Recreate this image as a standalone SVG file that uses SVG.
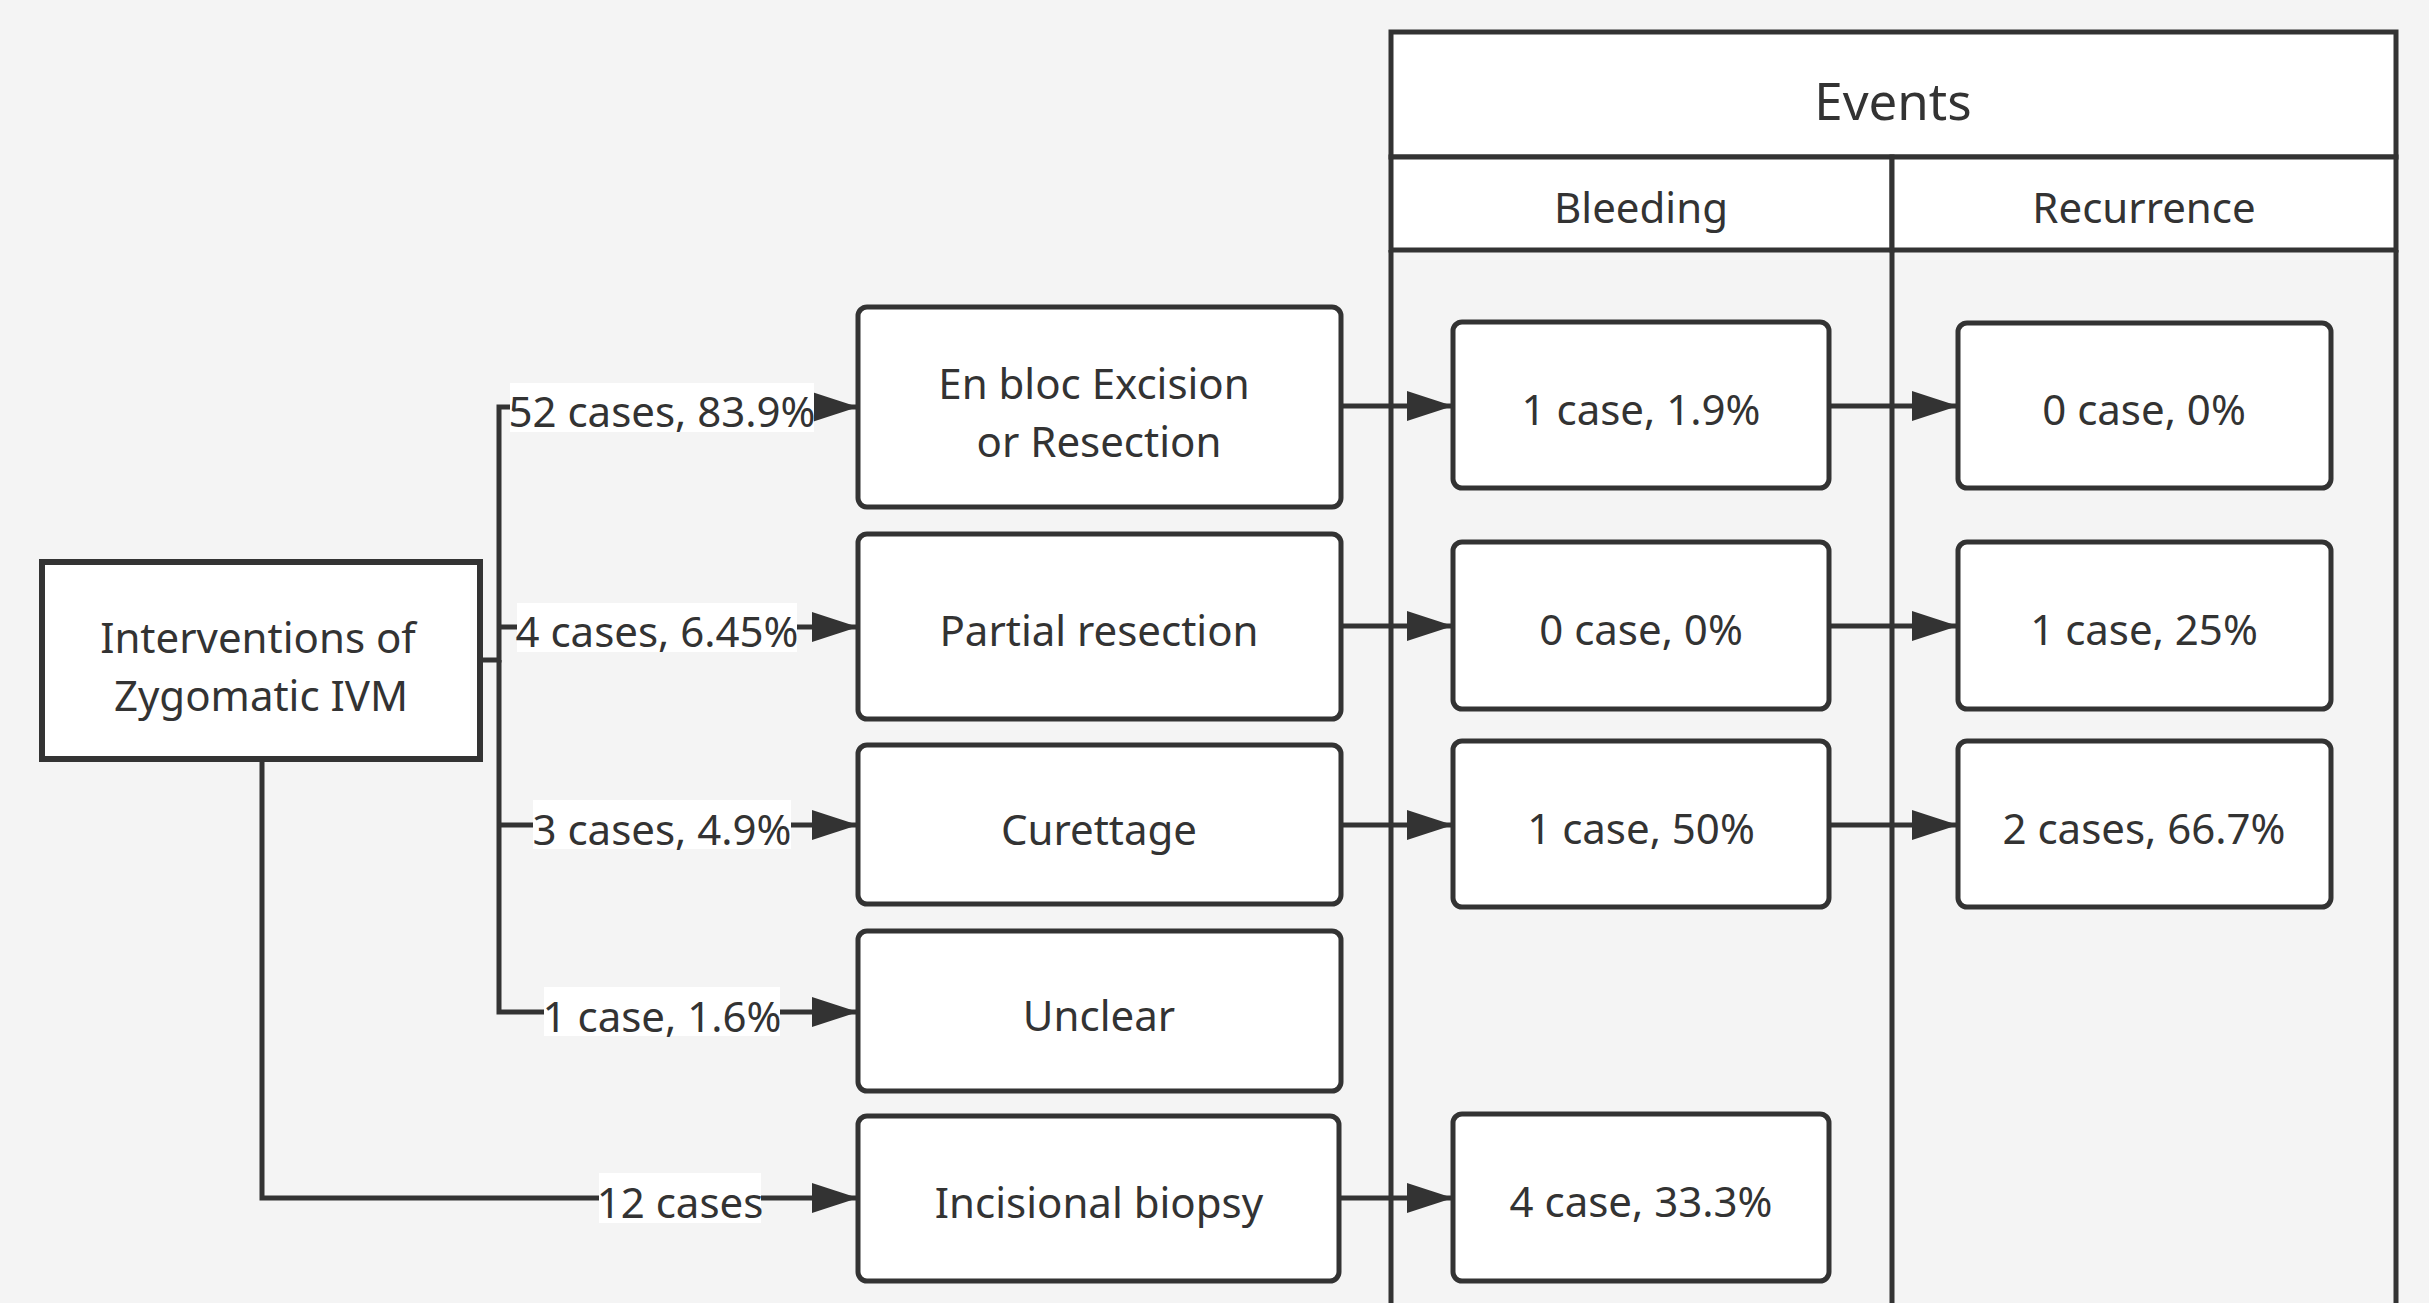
<svg xmlns="http://www.w3.org/2000/svg" width="2429" height="1303" viewBox="0 0 2429 1303">
  <style>
    text { font-family: "Noto Sans", "Open Sans", "Liberation Sans", sans-serif; font-size: 42px; fill: #333333; text-anchor: middle; }
    .box { fill: #ffffff; stroke: #333333; stroke-width: 5; }
    .root { fill: #ffffff; stroke: #333333; stroke-width: 6; }
    .conn { fill: none; stroke: #333333; stroke-width: 5; }
    .lbl { fill: #ffffff; }
    .lane { fill: none; stroke: #333333; stroke-width: 5; }
    .hdr { fill: #ffffff; stroke: #333333; stroke-width: 5; }
    .title { font-size: 51px; }
  </style>
  <defs>
    <marker id="arrow" markerUnits="userSpaceOnUse" markerWidth="46" markerHeight="30" refX="46" refY="15" orient="auto">
      <path d="M0,0 L46,15 L0,30 Z" fill="#333333"/>
    </marker>
  </defs>
  <rect x="0" y="0" width="2429" height="1303" fill="#f4f4f4"/>

  <g id="events-lanes">
    <rect class="hdr" x="1391" y="32" width="1005" height="125"/>
    <rect class="hdr" x="1391" y="157" width="501" height="93"/>
    <rect class="hdr" x="1892" y="157" width="504" height="93"/>
    <path class="lane" d="M1391,250 V1310 M1892,250 V1310 M2396,250 V1310"/>
    <text class="title" x="1893" y="120">Events</text>
    <text x="1641" y="223">Bleeding</text>
    <text x="2144" y="223">Recurrence</text>
  </g>

  <g id="connectors">
    <path class="conn" d="M480,660 H499 V407 H858" marker-end="url(#arrow)"/>
    <path class="conn" d="M499,627 H858" marker-end="url(#arrow)"/>
    <path class="conn" d="M499,660 V1012 H858" marker-end="url(#arrow)"/>
    <path class="conn" d="M499,825 H858" marker-end="url(#arrow)"/>
    <path class="conn" d="M262,759 V1198 H858" marker-end="url(#arrow)"/>
    <path class="conn" d="M1341,406 H1453" marker-end="url(#arrow)"/>
    <path class="conn" d="M1341,626 H1453" marker-end="url(#arrow)"/>
    <path class="conn" d="M1341,825 H1453" marker-end="url(#arrow)"/>
    <path class="conn" d="M1341,1198 H1453" marker-end="url(#arrow)"/>
    <path class="conn" d="M1829,406 H1958" marker-end="url(#arrow)"/>
    <path class="conn" d="M1829,626 H1958" marker-end="url(#arrow)"/>
    <path class="conn" d="M1829,825 H1958" marker-end="url(#arrow)"/>
    <rect class="lbl" x="510" y="383" width="304" height="49"/>
    <text x="662" y="427">52 cases, 83.9%</text>
    <rect class="lbl" x="517" y="603" width="280" height="49"/>
    <text x="657" y="647">4 cases, 6.45%</text>
    <rect class="lbl" x="533" y="800" width="258" height="49"/>
    <text x="662" y="845">3 cases, 4.9%</text>
    <rect class="lbl" x="544" y="987" width="236" height="49"/>
    <text x="662" y="1032">1 case, 1.6%</text>
    <rect class="lbl" x="599" y="1173" width="162" height="50"/>
    <text x="680" y="1218">12 cases</text>
  </g>

  <g id="root">
    <rect class="root" x="42" y="562" width="438" height="197"/>
    <text><tspan x="258" y="653">Interventions of</tspan><tspan x="261" y="711">Zygomatic IVM</tspan></text>
  </g>

  <g id="en-bloc">
    <rect class="box" x="858" y="307" width="483" height="200" rx="9"/>
    <text><tspan x="1094" y="399">En bloc Excision</tspan><tspan x="1099" y="457">or Resection</tspan></text>
  </g>
  <g id="partial">
    <rect class="box" x="858" y="534" width="483" height="185" rx="9"/>
    <text x="1099" y="646">Partial resection</text>
  </g>
  <g id="curettage">
    <rect class="box" x="858" y="745" width="483" height="159" rx="9"/>
    <text x="1099" y="845">Curettage</text>
  </g>
  <g id="unclear">
    <rect class="box" x="858" y="931" width="483" height="160" rx="9"/>
    <text x="1099" y="1031">Unclear</text>
  </g>
  <g id="incisional">
    <rect class="box" x="858" y="1116" width="481" height="165" rx="9"/>
    <text x="1099" y="1218">Incisional biopsy</text>
  </g>

  <g id="bleed-1">
    <rect class="box" x="1453" y="322" width="376" height="166" rx="9"/>
    <text x="1641" y="425">1 case, 1.9%</text>
  </g>
  <g id="bleed-2">
    <rect class="box" x="1453" y="542" width="376" height="167" rx="9"/>
    <text x="1641" y="645">0 case, 0%</text>
  </g>
  <g id="bleed-3">
    <rect class="box" x="1453" y="741" width="376" height="166" rx="9"/>
    <text x="1641" y="844">1 case, 50%</text>
  </g>
  <g id="bleed-5">
    <rect class="box" x="1453" y="1114" width="376" height="167" rx="9"/>
    <text x="1641" y="1217">4 case, 33.3%</text>
  </g>

  <g id="recur-1">
    <rect class="box" x="1958" y="323" width="373" height="165" rx="9"/>
    <text x="2144" y="425">0 case, 0%</text>
  </g>
  <g id="recur-2">
    <rect class="box" x="1958" y="542" width="373" height="167" rx="9"/>
    <text x="2144" y="645">1 case, 25%</text>
  </g>
  <g id="recur-3">
    <rect class="box" x="1958" y="741" width="373" height="166" rx="9"/>
    <text x="2144" y="844">2 cases, 66.7%</text>
  </g>
</svg>
